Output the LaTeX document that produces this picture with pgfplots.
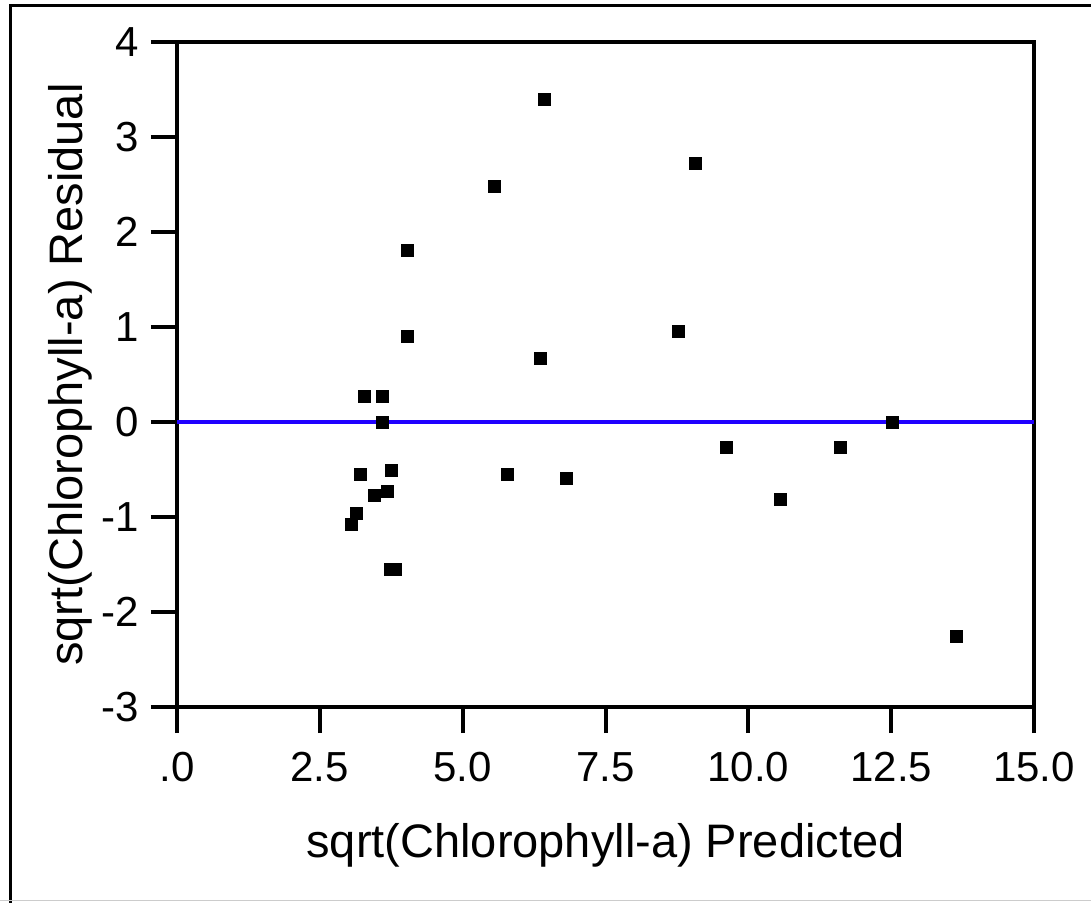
\documentclass[border=0pt]{standalone}
\usepackage{fontspec}
\setmainfont{Liberation Sans}
\usepackage{pgfplots}
\pgfplotsset{compat=1.18}
\definecolor{zeroblue}{RGB}{32,0,255}
\begin{document}
\begin{tikzpicture}
\useasboundingbox (-88.5pt,-97.5pt) rectangle (457pt,353.5pt);
\draw[line width=1.5pt] (-83.3pt,-98pt) -- (-83.3pt,351pt) -- (460pt,351pt);
\draw[line width=0.8pt, black!20] (-88.5pt,-96.8pt) -- (460pt,-96.8pt);
\begin{axis}[
  at={(0,0)}, anchor=south west,
  scale only axis, width=428.5pt, height=332.5pt,
  xmin=0, xmax=15, ymin=-3, ymax=4,
  axis line style={line width=2pt},
  every tick/.style={line width=2pt, black},
  tick align=outside,
  major tick length=13pt,
  xtick={0,2.5,5,7.5,10,12.5,15},
  xticklabels={.0,2.5,5.0,7.5,10.0,12.5,15.0},
  ytick={-3,-2,-1,0,1,2,3,4},
  yticklabels={-3,-2,-1,0,1,2,3,4},
  xtick pos=bottom, ytick pos=left,
  tick label style={font=\fontsize{21}{25}\selectfont, inner sep=0pt},
  yticklabel shift=6pt,
  xticklabel shift=9.5pt,
  label style={font=\fontsize{23.5}{28}\selectfont},
  xlabel={sqrt(Chlorophyll-a) Predicted},
  ylabel={sqrt(Chlorophyll-a) Residual},
  xlabel style={at={(axis description cs:0.5,-0.2075)}, anchor=center},
  ylabel style={at={(axis description cs:-0.125,0.5)}, anchor=center},
  clip=false,
]
\addplot[zeroblue, line width=2pt] coordinates {(0,0) (15,0)};
\addplot[only marks, mark=square*, mark size=3pt, mark options={fill=black, draw=black, line width=0pt}] coordinates {
(6.44,3.39) (5.55,2.48) (9.08,2.72) (4.03,1.81) (4.03,0.905)
(8.77,0.95) (6.37,0.67) (3.29,0.265) (3.59,0.265) (3.59,0.0)
(12.52,0.0) (9.61,-0.27) (11.62,-0.27) (3.22,-0.55) (3.75,-0.51)
(5.78,-0.55) (6.82,-0.59) (3.45,-0.77) (3.68,-0.73) (10.57,-0.82)
(3.15,-0.96) (3.06,-1.08) (3.73,-1.55) (3.83,-1.55) (13.64,-2.26)
};
\end{axis}
\end{tikzpicture}
\end{document}
